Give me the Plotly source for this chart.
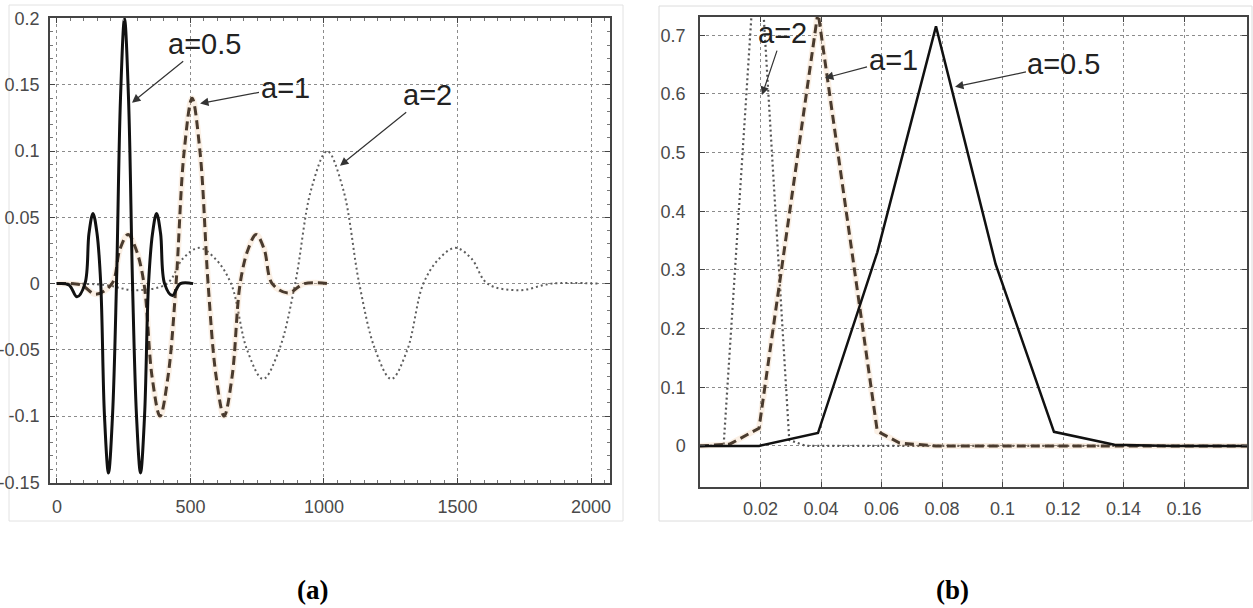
import plotly.graph_objects as go

# ---------------- data ----------------
# panel (a): wavelets at three scales
a05_x = [0, 45, 75, 105, 120, 135, 150, 164, 178, 193, 208, 223, 238, 253, 268, 283, 298, 313, 328, 343, 358, 373, 388, 403, 432, 462, 510]
a05_y = [0, -0.001, -0.010, 0.0, 0.038, 0.053, 0.038, 0.0, -0.100, -0.143, -0.100, 0.0, 0.140, 0.200, 0.140, 0.0, -0.100, -0.143, -0.100, 0.0, 0.038, 0.053, 0.038, 0.0, -0.009, 0.0, 0.0]

a1_x = [0, 90, 146, 206, 236, 266, 296, 326, 356, 386, 416, 446, 476, 506, 536, 566, 596, 626, 656, 686, 716, 746, 776, 806, 866, 926, 1012]
a1_y = [0, -0.001, -0.008, 0.0, 0.026, 0.037, 0.026, 0.0, -0.070, -0.100, -0.070, 0.0, 0.099, 0.140, 0.099, 0.0, -0.070, -0.100, -0.070, 0.0, 0.026, 0.037, 0.026, 0.0, -0.007, 0.0, 0.0]

a2_x = [0, 180, 292, 412, 472, 532, 592, 652, 712, 772, 832, 892, 952, 1012, 1072, 1132, 1192, 1252, 1312, 1372, 1432, 1492, 1552, 1612, 1732, 1852, 2024]
a2_y = [0, -0.001, -0.005, 0.0, 0.019, 0.027, 0.019, 0.0, -0.050, -0.072, -0.050, 0.0, 0.071, 0.100, 0.071, 0.0, -0.050, -0.072, -0.050, 0.0, 0.019, 0.027, 0.019, 0.0, -0.005, 0.0, 0.0]

# panel (b): spectra at three scales
f05_x = [0, 0.0195, 0.039, 0.0586, 0.078, 0.0977, 0.117, 0.137, 0.156, 0.181]
f05_y = [0, 0.0, 0.022, 0.33, 0.715, 0.31, 0.024, 0.002, 0.0, 0.0]

f1_x = [0, 0.0098, 0.0195, 0.039, 0.0586, 0.066, 0.078, 0.181]
f1_y = [0, 0.003, 0.03, 0.74, 0.025, 0.005, 0.0, 0.0]

f2_x = [0, 0.0078, 0.0191, 0.0295, 0.035, 0.181]
f2_y = [0, 0.0, 0.90, 0.01, 0.0, 0.0]

# tick labels
xa_ticks = [0, 500, 1000, 1500, 2000]
xa_text = ["0", "500", "1000", "1500", "2000"]
ya_ticks = [-0.15, -0.1, -0.05, 0, 0.05, 0.1, 0.15, 0.2]
ya_text = ["-0.15", "-0.1", "-0.05", "0", "0.05", "0.1", "0.15", "0.2"]
xb_ticks = [0.02, 0.04, 0.06, 0.08, 0.1, 0.12, 0.14, 0.16]
xb_text = ["0.02", "0.04", "0.06", "0.08", "0.1", "0.12", "0.14", "0.16"]
yb_ticks = [0, 0.1, 0.2, 0.3, 0.4, 0.5, 0.6, 0.7]
yb_text = ["0", "0.1", "0.2", "0.3", "0.4", "0.5", "0.6", "0.7"]

scale_labels = ["a=0.5", "a=1", "a=2"]
panel_labels = ["(a)", "(b)"]

# ---------------- figure ----------------
W, H = 1253, 608
def px(x):
    return x / W
def py(y):
    return 1 - y / H

fig = go.Figure()

# panel (a)
fig.add_trace(go.Scatter(x=a2_x, y=a2_y, mode="lines", xaxis="x", yaxis="y",
                         line=dict(color="#5e5e5e", width=2, dash="2px,3px", shape="spline", smoothing=1.0)))
fig.add_trace(go.Scatter(x=a1_x, y=a1_y, mode="lines", xaxis="x", yaxis="y",
                         line=dict(color="rgba(235,170,110,0.18)", width=6, shape="spline", smoothing=1.0)))
fig.add_trace(go.Scatter(x=a1_x, y=a1_y, mode="lines", xaxis="x", yaxis="y",
                         line=dict(color="#4a3b2e", width=3, dash="9px,5px", shape="spline", smoothing=1.0)))
fig.add_trace(go.Scatter(x=a05_x, y=a05_y, mode="lines", xaxis="x", yaxis="y",
                         line=dict(color="#111111", width=3, shape="spline", smoothing=1.0)))

# panel (b)
fig.add_trace(go.Scatter(x=f2_x, y=f2_y, mode="lines", xaxis="x2", yaxis="y2",
                         line=dict(color="#555555", width=2.2, dash="2px,3px")))
fig.add_trace(go.Scatter(x=f1_x, y=f1_y, mode="lines", xaxis="x2", yaxis="y2",
                         line=dict(color="rgba(235,170,110,0.18)", width=6)))
fig.add_trace(go.Scatter(x=f1_x, y=f1_y, mode="lines", xaxis="x2", yaxis="y2",
                         line=dict(color="#4a3b2e", width=3, dash="9px,5px")))
fig.add_trace(go.Scatter(x=f05_x, y=f05_y, mode="lines", xaxis="x2", yaxis="y2",
                         line=dict(color="#111111", width=2.5)))

tickfont = dict(family="Liberation Sans Narrow, Liberation Sans, Arial", size=18, color="#4a4a4a")
common = dict(showline=True, linecolor="#444444", linewidth=1.5, mirror="allticks",
              ticks="inside", ticklen=5, tickcolor="#444444", zeroline=False,
              showgrid=True, gridcolor="#8c8c8c", gridwidth=1, griddash="dot",
              tickfont=tickfont, tickmode="array", fixedrange=True, automargin=False)

fig.update_layout(
    width=W, height=H,
    margin=dict(l=0, r=0, t=0, b=0, autoexpand=False),
    paper_bgcolor="white", plot_bgcolor="white",
    showlegend=False,
    xaxis=dict(domain=[px(50), px(610)], range=[-26, 2071], anchor="y",
               tickvals=xa_ticks, ticktext=xa_text, ticklabelstandoff=7,
               minor=dict(ticks="inside", ticklen=3, tickmode="linear", tick0=0, dtick=50, tickcolor="#777777"),
               **common),
    yaxis=dict(domain=[py(483), py(18)], range=[-0.1505, 0.2005], anchor="x",
               tickvals=ya_ticks, ticktext=ya_text, ticklabelstandoff=5,
               minor=dict(ticks="inside", ticklen=3, tickmode="linear", tick0=0, dtick=0.01, tickcolor="#777777"),
               **common),
    xaxis2=dict(domain=[px(700), px(1247)], range=[0, 0.1808], anchor="y2",
                tickvals=xb_ticks, ticktext=xb_text, ticklabelstandoff=5, **common),
    yaxis2=dict(domain=[py(487), py(17)], range=[-0.07, 0.731], anchor="x2",
                tickvals=yb_ticks, ticktext=yb_text, ticklabelstandoff=9, **common),
)

# faint outer frames of the two pictures
fig.add_shape(type="rect", xref="paper", yref="paper", x0=px(9), x1=px(623), y0=py(521), y1=py(5),
              line=dict(color="#e2e2e2", width=1), layer="below")
fig.add_shape(type="rect", xref="paper", yref="paper", x0=px(659), x1=px(1252), y0=py(521), y1=py(6),
              line=dict(color="#dcdcdc", width=1), layer="below")

annfont = dict(family="Liberation Sans, Arial", size=29, color="#222222")
arrow = dict(showarrow=True, arrowhead=2, arrowsize=1.4, arrowwidth=1.2, arrowcolor="#333333", standoff=0)

# annotations panel (a): (head x, head y, text x, text y)
ann_a = [(281, 0.1366, 554, 0.181), (536, 0.136, 854, 0.148), (1060, 0.089, 1389, 0.1426)]
for (hx, hy, tx, ty), lab in zip(ann_a, scale_labels):
    fig.add_annotation(x=hx, y=hy, ax=tx, ay=ty, xref="x", yref="y", axref="x", ayref="y",
                       text=lab, font=annfont, **arrow)

# annotations panel (b)
ann_b = [(0.0843, 0.612, 0.1203, 0.651), (0.0413, 0.627, 0.0638, 0.6576), (0.0205, 0.598, 0.0274, 0.7036)]
for (hx, hy, tx, ty), lab in zip(ann_b, scale_labels):
    fig.add_annotation(x=hx, y=hy, ax=tx, ay=ty, xref="x2", yref="y2", axref="x2", ayref="y2",
                       text=lab, font=annfont, **arrow)

# panel captions
capfont = dict(family="Liberation Serif, Times New Roman, serif", size=27, color="black")
for cx, lab in zip([312, 952], panel_labels):
    fig.add_annotation(x=px(cx), y=py(590), xref="paper", yref="paper", text="<b>" + lab + "</b>",
                       showarrow=False, font=capfont, xanchor="center", yanchor="middle")

fig.write_html("out.html", config={"displayModeBar": False},
               post_script="document.body.style.margin='0px';document.body.style.overflow='hidden';")
